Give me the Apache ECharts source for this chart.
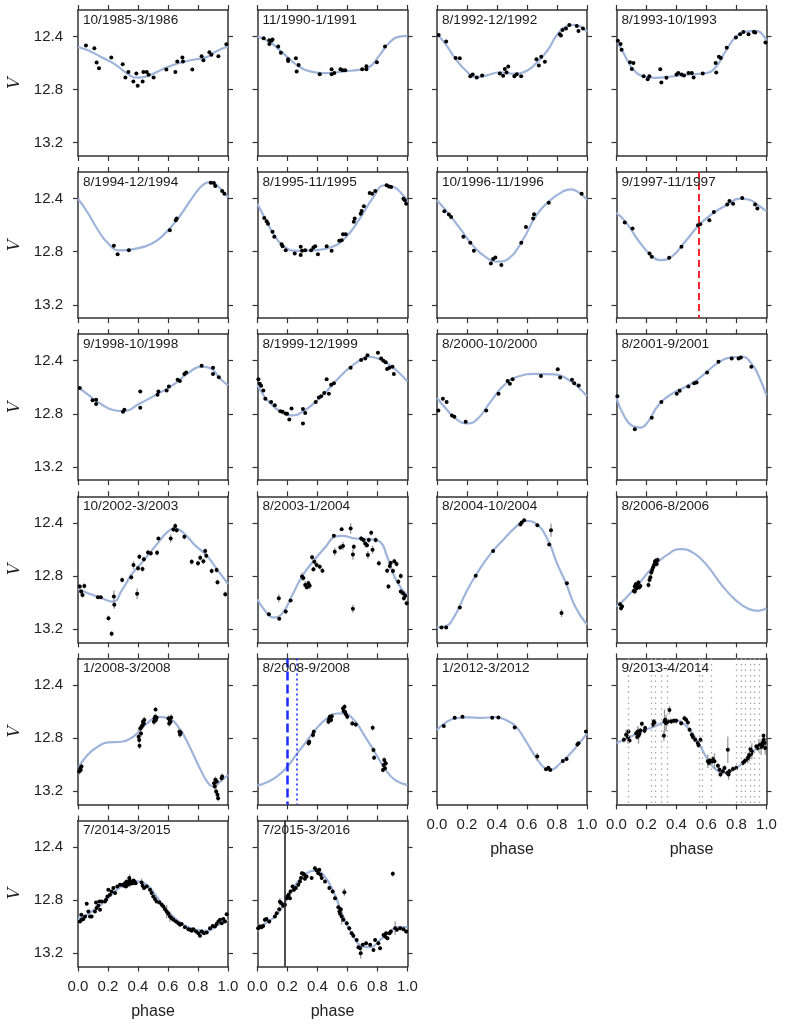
<!DOCTYPE html>
<html>
<head>
<meta charset="utf-8">
<script src="https://cdn.jsdelivr.net/npm/echarts@6/dist/echarts.min.js"></script>
<style>
  html, body { margin: 0; padding: 0; background: #fff; }
  #chart { width: 788px; height: 1029px; }
</style>
</head>
<body>
<div id="chart"></div>
<script>
// ---- tick labels ----
const xTicks = [0, 0.2, 0.4, 0.6, 0.8, 1.0];
const yTicks = [12.4, 12.8, 13.2];

// ---- panel labels (observing seasons) ----
const seasons = [
  '10/1985-3/1986', '11/1990-1/1991', '8/1992-12/1992', '8/1993-10/1993',
  '8/1994-12/1994', '8/1995-11/1995', '10/1996-11/1996', '9/1997-11/1997',
  '9/1998-10/1998', '8/1999-12/1999', '8/2000-10/2000', '8/2001-9/2001',
  '10/2002-3/2003', '8/2003-1/2004', '8/2004-10/2004', '8/2006-8/2006',
  '1/2008-3/2008', '8/2008-9/2008', '1/2012-3/2012', '9/2013-4/2014',
  '7/2014-3/2015', '7/2015-3/2016'
];

// ---- observations: [phase, V] or [phase, V, err] ----
const pts1985 = [[0.053,12.468],[0.109,12.488],[0.124,12.595],[0.14,12.638],[0.222,12.558],[0.298,12.608],[0.316,12.708],[0.336,12.668],[0.369,12.738],[0.389,12.678],[0.398,12.77],[0.431,12.738],[0.436,12.668],[0.458,12.668],[0.471,12.688],[0.504,12.708],[0.589,12.648],[0.649,12.668],[0.662,12.588],[0.696,12.558],[0.7,12.588],[0.762,12.648],[0.824,12.548],[0.836,12.578],[0.876,12.518],[0.889,12.538],[0.936,12.548],[0.989,12.458]];
const pts1990 = [[0.041,12.412],[0.079,12.427],[0.079,12.457],[0.093,12.432],[0.1,12.422],[0.138,12.475],[0.156,12.522],[0.204,12.572],[0.204,12.584],[0.256,12.564],[0.274,12.614],[0.261,12.664],[0.415,12.684],[0.494,12.646],[0.494,12.684],[0.512,12.674],[0.553,12.646],[0.567,12.654],[0.585,12.654],[0.698,12.646],[0.726,12.624],[0.726,12.646],[0.796,12.594],[0.85,12.475]];
const pts1992 = [[0.011,12.388],[0.061,12.437],[0.124,12.562],[0.152,12.564],[0.222,12.699],[0.238,12.686],[0.265,12.708],[0.301,12.694],[0.419,12.679],[0.441,12.696],[0.452,12.644],[0.464,12.671],[0.475,12.626],[0.516,12.699],[0.532,12.684],[0.561,12.699],[0.663,12.572],[0.679,12.619],[0.695,12.552],[0.719,12.589],[0.819,12.383],[0.826,12.393],[0.837,12.35],[0.86,12.34],[0.882,12.313],[0.932,12.32],[0.943,12.358],[0.973,12.34]];
const pts1993 = [[0.009,12.432],[0.027,12.457],[0.034,12.5],[0.09,12.594],[0.113,12.599],[0.102,12.644],[0.181,12.699],[0.208,12.721],[0.219,12.699],[0.292,12.646],[0.299,12.746],[0.333,12.711],[0.4,12.686],[0.412,12.674],[0.434,12.686],[0.45,12.694],[0.48,12.674],[0.502,12.674],[0.514,12.708],[0.575,12.679],[0.665,12.671],[0.661,12.599],[0.683,12.552],[0.695,12.562],[0.735,12.485],[0.796,12.407],[0.824,12.383],[0.846,12.365],[0.88,12.383],[0.916,12.365],[0.925,12.37],[0.993,12.445]];
const pts1994 = [[0.239,12.755],[0.264,12.818],[0.339,12.788],[0.612,12.638],[0.652,12.563],[0.658,12.55],[0.885,12.28],[0.906,12.283],[0.915,12.305],[0.961,12.343],[0.976,12.363]];
const pts1995 = [[0.045,12.545],[0.061,12.57],[0.07,12.59],[0.1,12.65],[0.112,12.688],[0.161,12.743],[0.167,12.758],[0.188,12.788],[0.248,12.813],[0.288,12.763],[0.288,12.825],[0.297,12.793],[0.318,12.788],[0.358,12.788],[0.373,12.768],[0.385,12.758],[0.403,12.818],[0.461,12.758],[0.494,12.793],[0.545,12.718],[0.561,12.713],[0.57,12.668],[0.588,12.668],[0.642,12.575],[0.648,12.55],[0.688,12.513],[0.694,12.493],[0.709,12.458],[0.748,12.358],[0.764,12.363],[0.785,12.343],[0.861,12.3],[0.876,12.308],[0.891,12.313],[0.973,12.4],[0.982,12.413],[0.991,12.438]];
const pts1996 = [[0.049,12.495],[0.079,12.52],[0.094,12.538],[0.176,12.688],[0.222,12.733],[0.246,12.793],[0.359,12.888],[0.374,12.855],[0.389,12.843],[0.429,12.9],[0.562,12.733],[0.593,12.613],[0.641,12.55],[0.647,12.518],[0.745,12.43],[0.964,12.363]];
const pts1997 = [[0.055,12.58],[0.107,12.625],[0.22,12.813],[0.235,12.838],[0.351,12.845],[0.433,12.763],[0.543,12.6],[0.558,12.593],[0.619,12.563],[0.649,12.5],[0.738,12.445],[0.753,12.418],[0.777,12.438],[0.838,12.395],[0.924,12.445],[0.939,12.475]];
const pts1998 = [[0.012,12.606],[0.097,12.698],[0.121,12.693],[0.121,12.725],[0.3,12.785],[0.309,12.77],[0.415,12.631],[0.415,12.755],[0.53,12.656],[0.536,12.631],[0.591,12.624],[0.606,12.594],[0.664,12.544],[0.679,12.552],[0.709,12.499],[0.721,12.489],[0.824,12.437],[0.9,12.452],[0.9,12.499],[0.939,12.524]];
const pts1999 = [[0.006,12.539],[0.015,12.574],[0.024,12.589],[0.039,12.624],[0.052,12.686],[0.091,12.711],[0.115,12.735],[0.152,12.78],[0.167,12.785],[0.188,12.798],[0.197,12.8],[0.212,12.842],[0.227,12.76],[0.303,12.763],[0.303,12.872],[0.318,12.793],[0.388,12.711],[0.409,12.676],[0.424,12.668],[0.445,12.643],[0.461,12.539],[0.476,12.648],[0.491,12.581],[0.509,12.569],[0.621,12.452],[0.691,12.395],[0.718,12.383],[0.733,12.358],[0.803,12.34],[0.824,12.383],[0.839,12.4],[0.855,12.412],[0.864,12.462],[0.879,12.452],[0.9,12.445],[0.909,12.499]];
const pts2000 = [[0.009,12.775],[0.039,12.686],[0.064,12.711],[0.1,12.812],[0.116,12.822],[0.191,12.86],[0.328,12.775],[0.41,12.648],[0.471,12.552],[0.486,12.574],[0.504,12.539],[0.693,12.514],[0.805,12.465],[0.821,12.527],[0.9,12.544],[0.915,12.569],[0.945,12.586]];
const pts2001 = [[0.006,12.668],[0.122,12.917],[0.235,12.83],[0.299,12.711],[0.402,12.648],[0.421,12.626],[0.479,12.594],[0.518,12.569],[0.534,12.564],[0.604,12.489],[0.68,12.407],[0.768,12.383],[0.814,12.383],[0.829,12.375],[0.899,12.445]];
const pts2002 = [[0.012,12.88],[0.021,12.918],[0.03,12.943],[0.042,12.875],[0.133,12.96,0.01],[0.152,12.96,0.01],[0.203,13.118],[0.224,13.235],[0.239,12.955,0.045],[0.242,13.018,0.03],[0.294,12.83],[0.355,12.81],[0.37,12.718,0.03],[0.394,12.935,0.04],[0.4,12.743],[0.409,12.655],[0.43,12.748],[0.439,12.675],[0.467,12.623],[0.485,12.63],[0.527,12.625],[0.536,12.518,0.01],[0.618,12.518,0.03],[0.636,12.45],[0.648,12.423,0.02],[0.658,12.455],[0.709,12.505],[0.758,12.693],[0.8,12.705],[0.815,12.663],[0.836,12.69],[0.848,12.613],[0.855,12.648],[0.891,12.763],[0.924,12.755],[0.93,12.848],[0.982,12.938]];
const pts2003 = [[0.076,13.088,0.01],[0.142,12.968,0.03],[0.145,13.123,0.01],[0.188,13.068],[0.221,12.985,0.01],[0.297,12.805,0.03],[0.306,12.815],[0.318,12.868,0.03],[0.33,12.885],[0.339,12.855],[0.348,12.873,0.03],[0.364,12.66],[0.379,12.693],[0.373,12.75],[0.394,12.718],[0.415,12.73],[0.433,12.76],[0.509,12.498,0.01],[0.515,12.618,0.03],[0.552,12.585],[0.561,12.448,0.01],[0.57,12.575,0.03],[0.621,12.443,0.04],[0.636,12.638,0.04],[0.636,13.048,0.03],[0.642,12.58],[0.691,12.518],[0.706,12.53],[0.718,12.555,0.03],[0.73,12.568],[0.736,12.643,0.03],[0.742,12.53],[0.758,12.475],[0.767,12.603,0.03],[0.788,12.53],[0.809,12.705],[0.864,12.76],[0.873,12.88],[0.882,12.725,0.03],[0.888,12.703],[0.903,12.763],[0.912,12.69],[0.927,12.71],[0.939,12.843],[0.955,12.8],[0.955,12.918],[0.97,12.93],[0.976,12.968],[0.985,12.95],[0.994,13.005]];
const pts2004 = [[0.03,13.188,0.005],[0.061,13.188,0.005],[0.152,13.038,0.005],[0.258,12.798,0.005],[0.374,12.613,0.005],[0.556,12.413],[0.565,12.398],[0.581,12.38,0.005],[0.669,12.418,0.005],[0.748,12.563,0.005],[0.76,12.455,0.05],[0.83,13.08,0.03],[0.866,12.855,0.005]];
const pts2006 = [[0.024,13.013],[0.03,13.043],[0.037,13.03],[0.116,12.913],[0.122,12.88],[0.128,12.863],[0.134,12.893],[0.14,12.868],[0.146,12.85],[0.152,12.885],[0.159,12.875],[0.122,12.918],[0.213,12.868],[0.22,12.83],[0.226,12.81],[0.232,12.775],[0.238,12.755],[0.244,12.735],[0.25,12.718],[0.256,12.693],[0.262,12.685],[0.268,12.71],[0.274,12.68]];
const pts2008a = [[0.007,13.053],[0.014,13.028],[0.018,13.04],[0.023,13.015],[0.404,12.79],[0.408,12.815],[0.41,12.858],[0.415,12.728],[0.42,12.765],[0.424,12.715],[0.429,12.703],[0.433,12.678],[0.438,12.69],[0.442,12.665],[0.506,12.678],[0.51,12.653],[0.515,12.64],[0.517,12.585,0.015],[0.519,12.665],[0.524,12.648],[0.603,12.653],[0.608,12.69],[0.612,12.665],[0.617,12.678],[0.621,12.645],[0.676,12.753],[0.68,12.773],[0.685,12.758],[0.907,13.14],[0.912,13.165],[0.916,13.115],[0.921,13.203],[0.925,13.128],[0.93,13.228],[0.934,13.253],[0.957,13.103],[0.961,13.09]];
const pts2008b = [[0.341,12.84],[0.345,12.828],[0.37,12.778],[0.375,12.753],[0.473,12.678],[0.477,12.658],[0.482,12.64],[0.486,12.648],[0.491,12.665],[0.495,12.635],[0.57,12.578],[0.575,12.598],[0.58,12.565],[0.584,12.603],[0.589,12.62],[0.598,12.64],[0.632,12.69],[0.655,12.698],[0.768,12.723],[0.773,12.89],[0.777,12.948],[0.836,13.04],[0.841,13.003],[0.845,12.965],[0.85,13.028],[0.855,12.99]];
const pts2012 = [[0.045,12.71],[0.118,12.648],[0.17,12.64],[0.368,12.648],[0.409,12.645],[0.518,12.72],[0.668,12.94,0.03],[0.727,13.035],[0.743,13.023],[0.755,13.04],[0.839,12.973],[0.864,12.958],[0.936,12.848],[0.943,12.84],[0.993,12.75]];
const pts2013 = [[0.049,12.813],[0.064,12.775,0.04],[0.076,12.793,0.05],[0.08,12.75],[0.087,12.818],[0.131,12.763],[0.138,12.793],[0.142,12.75,0.04],[0.147,12.783,0.06],[0.153,12.768],[0.16,12.743],[0.187,12.745],[0.191,12.725],[0.169,12.693],[0.242,12.7],[0.253,12.683],[0.249,12.675],[0.32,12.675,0.09],[0.324,12.663],[0.331,12.688,0.06],[0.316,12.783,0.04],[0.342,12.675],[0.353,12.588,0.03],[0.364,12.675],[0.382,12.67],[0.398,12.67],[0.431,12.688],[0.453,12.65],[0.464,12.663],[0.476,12.683],[0.487,12.738],[0.502,12.775],[0.509,12.793],[0.524,12.813],[0.542,12.838],[0.547,12.855],[0.56,12.813],[0.609,12.975,0.05],[0.616,12.988],[0.622,12.97],[0.631,12.983],[0.642,12.958],[0.653,12.975,0.06],[0.676,13.008],[0.687,13.038],[0.693,13.075],[0.709,13.05],[0.72,13.025],[0.738,13.063],[0.742,12.888,0.1],[0.747,13.075,0.04],[0.753,13.05],[0.776,13.033],[0.798,13.025],[0.842,12.988],[0.853,12.975],[0.864,12.963],[0.876,12.95,0.04],[0.882,12.938],[0.887,12.925,0.05],[0.893,12.883],[0.898,12.918],[0.902,12.9,0.06],[0.931,12.863],[0.942,12.875],[0.949,12.858,0.05],[0.958,12.85],[0.964,12.868,0.06],[0.971,12.858],[0.976,12.833],[0.982,12.813],[0.987,12.838],[0.991,12.875,0.05],[0.98,12.783]];
const pts2014 = [[0.013,12.961],[0.024,12.948],[0.036,12.943],[0.022,12.911],[0.047,12.923],[0.058,12.828],[0.069,12.886],[0.08,12.923],[0.091,12.923],[0.113,12.886],[0.12,12.818],[0.124,12.86],[0.136,12.843],[0.142,12.81],[0.147,12.873],[0.158,12.81],[0.18,12.81],[0.187,12.797],[0.196,12.772],[0.202,12.722],[0.213,12.76],[0.224,12.735],[0.236,12.709],[0.247,12.747],[0.262,12.697],[0.28,12.684],[0.298,12.684],[0.307,12.692],[0.313,12.672],[0.32,12.697],[0.324,12.659],[0.331,12.684],[0.338,12.667],[0.344,12.654,0.05],[0.351,12.677],[0.358,12.659],[0.364,12.672],[0.371,12.652],[0.378,12.664],[0.384,12.672],[0.342,12.634],[0.424,12.667,0.03],[0.431,12.692],[0.44,12.709],[0.458,12.697],[0.48,12.722],[0.491,12.747],[0.502,12.772],[0.513,12.792],[0.524,12.81],[0.542,12.818],[0.558,12.835],[0.569,12.848],[0.58,12.868],[0.591,12.886,0.05],[0.602,12.903],[0.613,12.923,0.04],[0.624,12.936],[0.636,12.948],[0.653,12.961],[0.669,12.974],[0.68,12.986],[0.691,12.979],[0.713,13.004],[0.736,13.019],[0.747,13.024],[0.758,13.031],[0.769,13.019],[0.787,13.036],[0.802,13.049],[0.813,13.069],[0.824,13.036],[0.84,13.049],[0.858,13.044],[0.88,13.011],[0.898,12.994],[0.913,12.999],[0.924,12.979],[0.936,12.961],[0.947,12.948],[0.958,12.974],[0.969,12.943],[0.98,12.961],[0.991,12.906]];
const pts2015 = [[0.004,13.011,0.03],[0.016,12.999],[0.027,13.004],[0.038,12.994],[0.049,12.948],[0.06,12.943],[0.078,12.961],[0.116,12.923],[0.128,12.898],[0.145,12.868],[0.149,12.813,0.03],[0.16,12.823],[0.171,12.843],[0.183,12.835],[0.194,12.785],[0.2,12.772],[0.207,12.759],[0.216,12.785],[0.22,12.735],[0.234,12.697],[0.243,12.722],[0.256,12.709],[0.272,12.684],[0.283,12.659],[0.29,12.634],[0.296,12.597],[0.305,12.602],[0.312,12.609],[0.316,12.639],[0.327,12.622],[0.361,12.634],[0.383,12.559],[0.394,12.577],[0.405,12.597],[0.412,12.572],[0.421,12.609],[0.428,12.634],[0.45,12.659],[0.479,12.709],[0.501,12.735],[0.517,12.785],[0.539,12.853],[0.546,12.886],[0.55,12.903],[0.555,12.868],[0.561,12.923,0.06],[0.572,12.948],[0.579,12.74,0.03],[0.595,12.974],[0.612,13.011],[0.628,13.049],[0.639,13.069],[0.661,13.1],[0.673,13.155],[0.684,13.162],[0.688,13.2,0.04],[0.702,13.137],[0.724,13.125],[0.751,13.137],[0.773,13.175],[0.784,13.1],[0.806,13.125],[0.817,13.162],[0.84,13.062],[0.851,13.074],[0.857,13.049],[0.866,13.087],[0.88,13.049],[0.889,13.036],[0.902,12.602,0.02],[0.918,13.011,0.05],[0.929,13.024],[0.951,13.011],[0.973,13.019],[0.991,13.036]];

// ---- fitted light curves: [phase, V] ----
const fit1985 = [[0,12.48],[0.058,12.5],[0.147,12.55],[0.247,12.61],[0.324,12.675],[0.391,12.71],[0.458,12.7],[0.547,12.655],[0.658,12.605],[0.769,12.575],[0.858,12.555],[0.924,12.51],[1,12.475]];
const fit1990 = [[0,12.4],[0.086,12.445],[0.177,12.532],[0.268,12.619],[0.358,12.664],[0.449,12.676],[0.585,12.661],[0.676,12.651],[0.744,12.631],[0.812,12.544],[0.88,12.445],[0.95,12.4],[1,12.395]];
const fit1992 = [[0,12.383],[0.057,12.457],[0.124,12.569],[0.192,12.656],[0.26,12.706],[0.328,12.694],[0.419,12.669],[0.509,12.681],[0.577,12.669],[0.645,12.619],[0.735,12.507],[0.803,12.383],[0.871,12.32],[0.916,12.313],[0.962,12.328],[1,12.363]];
const fit1993 = [[0,12.42],[0.05,12.532],[0.118,12.656],[0.186,12.701],[0.253,12.711],[0.367,12.701],[0.48,12.686],[0.593,12.676],[0.661,12.631],[0.729,12.507],[0.796,12.402],[0.864,12.363],[0.932,12.358],[1,12.432]];
const fit1994 = [[0,12.4],[0.067,12.51],[0.127,12.625],[0.203,12.74],[0.279,12.79],[0.37,12.78],[0.491,12.74],[0.582,12.66],[0.673,12.54],[0.764,12.39],[0.839,12.29],[0.885,12.275],[0.945,12.32],[1,12.39]];
const fit1995 = [[0,12.438],[0.045,12.538],[0.106,12.663],[0.167,12.75],[0.258,12.793],[0.379,12.788],[0.5,12.763],[0.591,12.688],[0.682,12.55],[0.773,12.388],[0.848,12.3],[0.909,12.313],[0.97,12.375],[1,12.425]];
const fit1996 = [[0,12.413],[0.055,12.483],[0.146,12.613],[0.237,12.75],[0.328,12.843],[0.404,12.875],[0.48,12.85],[0.571,12.713],[0.663,12.525],[0.754,12.413],[0.845,12.343],[0.891,12.33],[0.951,12.358],[1,12.408]];
const fit1997 = [[0,12.508],[0.061,12.575],[0.152,12.725],[0.229,12.825],[0.29,12.863],[0.366,12.838],[0.457,12.725],[0.549,12.6],[0.64,12.513],[0.732,12.45],[0.823,12.4],[0.884,12.408],[0.945,12.45],[1,12.495]];
const fit1998 = [[0,12.599],[0.067,12.656],[0.158,12.73],[0.248,12.775],[0.309,12.78],[0.4,12.73],[0.521,12.656],[0.642,12.576],[0.733,12.494],[0.824,12.445],[0.885,12.457],[0.945,12.532],[1,12.586]];
const fit1999 = [[0,12.581],[0.045,12.668],[0.106,12.743],[0.167,12.793],[0.227,12.812],[0.288,12.793],[0.379,12.718],[0.47,12.619],[0.561,12.507],[0.652,12.42],[0.742,12.37],[0.803,12.383],[0.864,12.42],[0.924,12.47],[1,12.556]];
const fit2000 = [[0,12.681],[0.055,12.755],[0.131,12.842],[0.201,12.872],[0.267,12.842],[0.359,12.706],[0.45,12.581],[0.541,12.519],[0.663,12.499],[0.784,12.502],[0.86,12.532],[0.936,12.594],[1,12.668]];
const fit2001 = [[0,12.681],[0.046,12.805],[0.107,12.892],[0.159,12.904],[0.213,12.855],[0.274,12.743],[0.366,12.651],[0.488,12.581],[0.579,12.507],[0.671,12.42],[0.762,12.375],[0.838,12.37],[0.899,12.42],[0.945,12.507],[1,12.661]];
const fit2002 = [[0,12.898],[0.067,12.93],[0.158,12.968],[0.233,12.993],[0.294,12.905],[0.355,12.793],[0.43,12.693],[0.521,12.568],[0.597,12.468],[0.648,12.443],[0.703,12.475],[0.779,12.568],[0.855,12.643],[0.93,12.755],[1,12.86]];
const fit2003 = [[0,12.975],[0.045,13.055],[0.106,13.113],[0.167,13.08],[0.227,12.955],[0.303,12.793],[0.379,12.68],[0.455,12.58],[0.515,12.505],[0.561,12.498],[0.652,12.518],[0.758,12.525],[0.818,12.543],[0.864,12.655],[0.924,12.83],[1,12.95]];
const fit2004 = [[0,13.188],[0.055,13.18],[0.116,13.105],[0.191,12.93],[0.267,12.78],[0.359,12.63],[0.45,12.518],[0.526,12.43],[0.587,12.385],[0.663,12.41],[0.739,12.53],[0.8,12.705],[0.86,12.855],[0.921,13.03],[1,13.168]];
const fit2006 = [[0,13.03],[0.061,12.968],[0.152,12.855],[0.244,12.73],[0.335,12.643],[0.427,12.598],[0.518,12.63],[0.61,12.73],[0.701,12.868],[0.793,12.98],[0.884,13.05],[0.945,13.063],[1,13.043]];
const fit2008a = [[0,13.028],[0.063,12.928],[0.132,12.865],[0.2,12.833],[0.29,12.828],[0.358,12.798],[0.404,12.753],[0.472,12.678],[0.54,12.64],[0.608,12.653],[0.676,12.728],[0.744,12.865],[0.812,13.028],[0.868,13.14],[0.902,13.165],[0.948,13.128],[1,13.078]];
const fit2008b = [[0,13.158],[0.075,13.128],[0.143,13.078],[0.2,13.015],[0.257,12.928],[0.325,12.828],[0.393,12.728],[0.461,12.653],[0.53,12.615],[0.575,12.615],[0.643,12.665],[0.711,12.778],[0.78,12.903],[0.848,13.028],[0.916,13.115],[1,13.153]];
const fit2012 = [[0,12.74],[0.05,12.69],[0.118,12.653],[0.209,12.645],[0.3,12.648],[0.391,12.643],[0.459,12.665],[0.527,12.715],[0.595,12.828],[0.664,12.953],[0.72,13.028],[0.755,13.04],[0.823,12.99],[0.891,12.915],[0.948,12.84],[1,12.765]];
const fit2013 = [[0,12.838],[0.076,12.8],[0.164,12.75],[0.253,12.713],[0.331,12.675],[0.387,12.663],[0.442,12.688],[0.498,12.75],[0.553,12.85],[0.609,12.963],[0.664,13.038],[0.72,13.063],[0.776,13.038],[0.842,12.988],[0.898,12.913],[0.953,12.868],[1,12.85]];
const fit2014 = [[0,12.943],[0.058,12.911],[0.124,12.86],[0.191,12.797],[0.258,12.722],[0.324,12.677],[0.391,12.659],[0.458,12.684],[0.524,12.772],[0.591,12.873],[0.658,12.948],[0.724,12.999],[0.791,13.024],[0.858,13.031],[0.924,12.994],[1,12.948]];
const fit2015 = [[0,13.004],[0.06,12.969],[0.127,12.911],[0.194,12.797],[0.261,12.672],[0.327,12.597],[0.383,12.577],[0.439,12.609],[0.506,12.735],[0.572,12.923],[0.639,13.074],[0.706,13.15],[0.751,13.155],[0.817,13.1],[0.884,13.036],[0.94,13.004],[1,13.004]];

// ---- vertical marker phases ----
const vRed1997 = [0.545];
const vBlueDash2008 = [0.2];
const vBlueDot2008 = [0.264];
const vGray2013 = [0.08, 0.23, 0.26, 0.30, 0.34, 0.55, 0.57, 0.63, 0.80, 0.83, 0.86, 0.89, 0.92, 0.95];
const vBlack2015 = [0.183];

const ptsList = [pts1985, pts1990, pts1992, pts1993, pts1994, pts1995, pts1996, pts1997,
  pts1998, pts1999, pts2000, pts2001, pts2002, pts2003, pts2004, pts2006,
  pts2008a, pts2008b, pts2012, pts2013, pts2014, pts2015];
const fitList = [fit1985, fit1990, fit1992, fit1993, fit1994, fit1995, fit1996, fit1997,
  fit1998, fit1999, fit2000, fit2001, fit2002, fit2003, fit2004, fit2006,
  fit2008a, fit2008b, fit2012, fit2013, fit2014, fit2015];
// default error bar half-length per panel (0 = no bars drawn)
const errDefault = [0, 0, 0, 0, 0, 0, 0, 0, 0, 0, 0, 0,
  0.02, 0.02, 0.005, 0.02, 0.025, 0.02, 0.008, 0.02, 0.01, 0.015];

// panels that carry the x tick labels (bottom of each column)
const xLabelled = [18, 19, 20, 21];

const FONT = '"Liberation Sans", Arial, Helvetica, sans-serif';
const FRAME = '#333';
const FIT = '#9fb4da';

const markers = {
  7: vRed1997.map(v => ({xAxis: v, lineStyle: {color: '#f0262b', type: [7, 4], width: 2}})),
  17: vBlueDash2008.map(v => ({xAxis: v, lineStyle: {color: '#1a2cff', type: [9, 4], width: 2.5}}))
    .concat(vBlueDot2008.map(v => ({xAxis: v, lineStyle: {color: '#1a2cff', type: [2, 3], width: 1.6}}))),
  19: vGray2013.map(v => ({xAxis: v, lineStyle: {color: '#a8a8a8', type: [1.5, 4], width: 1.3}})),
  21: vBlack2015.map(v => ({xAxis: v, lineStyle: {color: '#222', type: 'solid', width: 1.6}}))
};

const grid = [], xAxis = [], yAxis = [], series = [], title = [];

seasons.forEach((label, i) => {
  const col = i % 4, row = Math.floor(i / 4);
  const left = 78 + col * 179.5;
  const top = 10 + row * 162.1;
  grid.push({left: left, top: top, width: 150, height: 146});
  title.push({
    text: label, left: left + 5, top: top + 3, padding: 0,
    textStyle: {fontFamily: FONT, fontSize: 13.6, fontWeight: 'normal', color: '#1a1a1a'}
  });

  const showX = xLabelled.indexOf(i) >= 0;
  const showY = col === 0;
  const axisLine = {show: true, onZero: false, lineStyle: {color: FRAME, width: 1.5}};
  const axisTick = {show: true, inside: false, length: 5, lineStyle: {color: FRAME, width: 1.2}};

  ['bottom', 'top'].forEach(pos => {
    xAxis.push({
      gridIndex: i, type: 'value', position: pos, min: 0, max: 1, interval: 0.2,
      axisLine: axisLine, axisTick: axisTick, splitLine: {show: false},
      axisLabel: {
        show: showX && pos === 'bottom', margin: 13, fontSize: 15, color: '#222',
        fontFamily: FONT, formatter: v => v.toFixed(1)
      },
      name: showX && pos === 'bottom' ? 'phase' : '',
      nameLocation: 'middle', nameGap: 37,
      nameTextStyle: {fontFamily: FONT, fontSize: 16, color: '#222'}
    });
  });
  ['left', 'right'].forEach(pos => {
    yAxis.push({
      gridIndex: i, type: 'value', position: pos, inverse: true, min: 12.2, max: 13.3,
      axisLine: axisLine, splitLine: {show: false},
      axisTick: Object.assign({customValues: yTicks}, axisTick),
      axisLabel: {
        show: showY && pos === 'left', customValues: yTicks, margin: 15, fontSize: 15,
        color: '#222', fontFamily: FONT, formatter: v => v.toFixed(1)
      },
      name: showY && pos === 'left' ? 'V' : '',
      nameLocation: 'middle', nameGap: 55,
      nameTextStyle: {fontFamily: '"DejaVu Serif", "Liberation Serif", serif', fontStyle: 'italic', fontSize: 16, color: '#222'}
    });
  });

  const xi = i * 2, yi = i * 2;
  const fitSeries = {
    type: 'line', xAxisIndex: xi, yAxisIndex: yi, data: fitList[i], smooth: 0.5,
    showSymbol: false, lineStyle: {color: FIT, width: 2.2}, z: 2, silent: true
  };
  if (markers[i]) {
    fitSeries.markLine = {silent: true, symbol: ['none', 'none'], label: {show: false}, data: markers[i]};
  }
  series.push(fitSeries);

  const e0 = errDefault[i];
  const withErr = ptsList[i].filter(p => (p[2] !== undefined ? p[2] : e0) > 0)
    .map(p => [p[0], p[1], p[2] !== undefined ? p[2] : e0]);
  if (withErr.length) {
    series.push({
      type: 'custom', xAxisIndex: xi, yAxisIndex: yi, data: withErr, z: 3, silent: true,
      renderItem: (params, api) => {
        const x = api.value(0), y = api.value(1), e = api.value(2);
        const a = api.coord([x, y - e]), b = api.coord([x, y + e]);
        return {type: 'line', shape: {x1: a[0], y1: a[1], x2: b[0], y2: b[1]},
          style: {stroke: '#9a9a9a', lineWidth: 1.3}};
      }
    });
  }
  series.push({
    type: 'scatter', xAxisIndex: xi, yAxisIndex: yi, z: 4, silent: true,
    data: ptsList[i].map(p => [p[0], p[1]]), symbolSize: 4,
    itemStyle: {color: '#000', opacity: 1}
  });
});

const chart = echarts.init(document.getElementById('chart'));
chart.setOption({
  animation: false,
  backgroundColor: '#fff',
  title: title, grid: grid, xAxis: xAxis, yAxis: yAxis, series: series
});
</script>
</body>
</html>
